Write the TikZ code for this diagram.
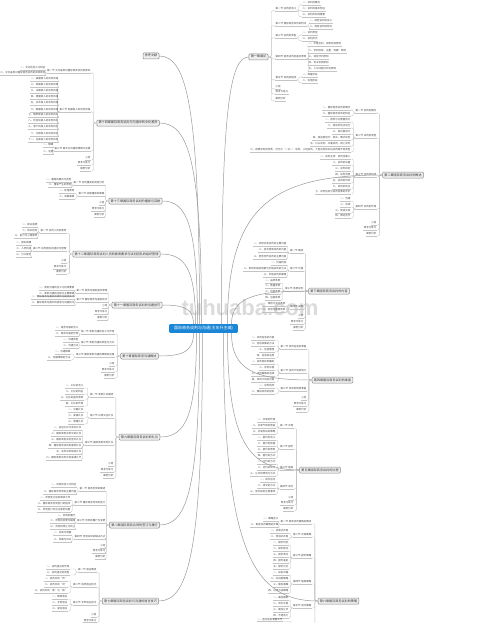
\documentclass[tikz,border=0pt]{standalone}
\usepackage{fontspec}
\setmainfont{Noto Sans CJK SC}
\newfontfamily\wmfont{Liberation Sans}
\usetikzlibrary{calc}
\definecolor{linec}{HTML}{C4C4C4}
\definecolor{mainc}{HTML}{9A9A9A}
\definecolor{txtc}{HTML}{4A4A4A}
\definecolor{rootc}{HTML}{1C86D6}
\definecolor{chapfill}{HTML}{EFEFEF}
\definecolor{chapdraw}{HTML}{8A8A8A}
\tikzset{
 leaf/.style={font=\fontsize{2.5}{3}\selectfont, text=txtc, inner xsep=0.5pt, inner ysep=0.4pt,
   text height=2.1pt, text depth=0.5pt,
   append after command={(\tikzlastnode.south west) edge[draw=linec,line width=0.3pt] (\tikzlastnode.south east)}},
 conn/.style={draw=linec, line width=0.3pt, rounded corners=1.2pt},
 chap/.style={draw=chapdraw, fill=chapfill, line width=0.5pt, rounded corners=1pt,
   font=\fontsize{3.1}{3.5}\selectfont, text=black!80, inner xsep=1.8pt, inner ysep=1.4pt,
   text height=2.6pt, text depth=0.6pt},
 root/.style={fill=rootc, text=white, rounded corners=1pt, font=\fontsize{4}{4.5}\selectfont,
   inner xsep=5pt, inner ysep=2.2pt, text height=3.4pt, text depth=0.8pt},
 main/.style={draw=mainc, line width=0.5pt},
 wmark/.style={text=gray!40, opacity=0.7, font=\wmfont\bfseries\fontsize{22}{22}\selectfont},
}
% left-growing children of a chapter box
\newcommand{\LC}[3]{\foreach \yy/\mytxt [count=\myi] in {#3}{%
  \node[leaf,anchor=east] (#1-\myi) at (#2,\yy) {\mytxt};
  \draw[conn] (#1.west) -- ++(-3,0) |- (#1-\myi.south east);}}
% left-growing children of a subtopic
\newcommand{\LG}[3]{\foreach \yy/\mytxt [count=\myi] in {#3}{%
  \node[leaf,anchor=east] (#1-\myi) at (#2,\yy) {\mytxt};
  \draw[conn] (#1.south west) -- ++(-1.8,0) |- (#1-\myi.south east);}}
% right-growing children of a chapter box
\newcommand{\RC}[3]{\foreach \yy/\mytxt [count=\myi] in {#3}{%
  \node[leaf,anchor=west] (#1-\myi) at (#2,\yy) {\mytxt};
  \draw[conn] (#1.east) -- ++(3,0) |- (#1-\myi.south west);}}
% right-growing children of a subtopic
\newcommand{\RG}[3]{\foreach \yy/\mytxt [count=\myi] in {#3}{%
  \node[leaf,anchor=west] (#1-\myi) at (#2,\yy) {\mytxt};
  \draw[conn] (#1.south east) -- ++(1.8,0) |- (#1-\myi.south west);}}
% curved main branch
\newcommand{\mmlink}[2]{\draw[main] let \p1=(#1), \p2=(#2) in
  (\p1) .. controls (\x1,{\y1+0.8*(\y2-\y1)}) and ({\x1+0.3*(\x2-\x1)},\y2) .. (\p2);}

\begin{document}
\begin{tikzpicture}[x=1pt,y=-1pt]
\useasboundingbox (0,0) rectangle (500,623);
\fill[white] (0,0) rectangle (500,623);

\node[wmark] (wm) at (250,308) {tuhuaba.com};

% ---------- centre ----------
\node[root] (root) at (203.5,328.5) {国际商务谈判与沟通(王东升主编)};

% ---------- left side ----------
\node[chap] (ref) at (151,56) {参考文献};

\node[chap] (c14) at (128,123) {第十四章国际商务谈判与沟通中的文化差异};
\LC{c14}{91}{71/第一节 文化差异对国际商务谈判的影响, 110/第二节 各国商人的谈判风格, 149/第三节 跨文化沟通的障碍与克服, 158/小结, 163/思考与练习, 169/案例分析}
\LG{c14-1}{46}{68/一、文化的含义与特征, 73/二、文化差异对国际商务谈判的具体影响}
\LG{c14-2}{59}{79/一、美国商人的谈判风格, 85/二、英国商人的谈判风格, 91/三、法国商人的谈判风格, 97/四、德国商人的谈判风格, 103/五、日本商人的谈判风格, 110/六、韩国商人的谈判风格, 115/七、俄罗斯商人的谈判风格, 121/八、阿拉伯商人的谈判风格, 127/九、意大利商人的谈判风格, 134/十、北欧商人的谈判风格, 140/十一、拉美商人的谈判风格}
\LG{c14-3}{54}{145/一、障碍, 152/二、克服}

\node[chap] (c13) at (135.5,201) {第十三章国际商务谈判的僵局与突破};
\LC{c13}{105}{183/第一节 谈判僵局的成因分析, 194/第二节 突破僵局的策略, 203/小结, 209/思考与练习, 215/案例分析}
\LG{c13-1}{72}{180/一、僵局的概念与类型, 185/二、僵局产生的原因}
\LG{c13-2}{75}{191/一、处理原则, 197/二、突破策略}

\node[chap] (c12) at (116.5,254) {第十二章国际商务谈判人员的素质要求与谈判团队的组织管理};
\LC{c12}{67}{231/第一节 谈判人员的素质, 249/第二节 谈判团队的组织与管理, 261/小结, 267/思考与练习, 272/案例分析}
\LG{c12-1}{38}{225/一、职业道德, 231/二、知识结构, 236/三、能力与心理素质}
\LG{c12-2}{32}{243/一、团队规模, 249/二、人员构成, 255/三、分工配合}

\node[chap] (c11) at (137,305) {第十一章国际商务谈判的沟通技巧};
\LC{c11}{108}{291/第一节 商务沟通的基本原理, 300/第二节 国际商务沟通的技巧, 306/小结, 312/思考与练习, 318/案例分析}
\LG{c11-1}{75}{288/一、商务沟通的含义与构成要素, 294/二、商务沟通的过程与主要障碍}
\LG{c11-2}{75}{297/一、国际商务沟通中的倾听与提问技巧, 303/二、国际商务沟通中的回答与说服技巧}

\node[chap] (c10) at (139.5,356) {第十章国际商务沟通概述};
\LC{c10}{115}{332/第一节 商务沟通的含义与作用, 343/第二节 商务沟通的类型与方式, 355/第三节 国际商务沟通的障碍及克服, 364/小结, 370/思考与练习, 376/案例分析}
\LG{c10-1}{79}{328/一、商务沟通的含义, 334/二、商务沟通的作用}
\LG{c10-2}{79}{340/一、沟通类型, 346/二、沟通方式}
\LG{c10-3}{71}{352/一、沟通障碍, 358/二、克服障碍的方法}

\node[chap] (c9) at (139.5,437) {第九章国际商务谈判的礼仪};
\LC{c9}{114}{395/第一节 商务礼仪概述, 416/第二节 日常交往礼仪, 443/第三节 国际商务谈判礼仪, 464/小结, 470/思考与练习, 476/案例分析}
\LG{c9-1}{84}{386/一、礼仪的含义, 392/二、礼仪的特征, 398/三、礼仪的基本原则, 404/四、礼仪的作用}
\LG{c9-2}{84}{410/一、见面礼仪, 416/二、宴请礼仪, 422/三、馈赠礼仪}
\LG{c9-3}{82}{428/一、迎送礼仪与会见礼仪, 434/二、国际商务谈判中的礼仪, 440/三、国际商务谈判签约礼仪, 446/四、国际商务谈判的服饰礼仪, 452/五、谈判中的禁忌礼仪, 458/六、国际商务谈判中的宴请礼节}

\node[chap] (c8) at (134.5,525) {第八章国际商务合同的签订与履行};
\LC{c8}{106}{489/第一节 商务合同的概述, 503/第二节 国际商务合同的签订, 521/第三节 合同的履行与变更, 537/第四节 合同纠纷的解决方式, 546/小结, 551/思考与练习, 557/案例分析}
\LG{c8-1}{77}{485/一、合同的含义与特征, 492/二、国际商务合同的主要内容}
\LG{c8-2}{71}{498/一、合同签订前的审核工作, 504/二、国际商务合同签订的程序, 510/三、合同签订中应注意的问题}
\LG{c8-3}{76}{516/一、合同的履行, 521/二、合同的变更与解除, 527/三、合同的转让与终止}
\LG{c8-4}{72}{533/一、协商与调解, 540/二、仲裁与诉讼}

\node[chap] (c7) at (130.5,601) {第七章国际商务谈判与沟通的语言技巧};
\LC{c7}{97}{570/第一节 语言概述, 585/第二节 有声语言技巧, 603/第三节 无声语言技巧, 615/小结, 620.5/思考与练习}
\LG{c7-1}{70}{567/一、谈判语言的作用, 573/二、谈判语言的类型}
\LG{c7-2}{68}{579/一、谈判中的“听”, 585/二、谈判中的“问”, 591/三、谈判中的“答”与“叙”}
\LG{c7-3}{68}{597/一、眼神语言, 603/二、手势语言, 609/三、姿态语言}

% ---------- right side ----------
\node[chap] (c1) at (258.5,57) {第一章绪论};
\RC{c1}{275}{9/第一节 谈判的含义, 24/第二节 国际商务谈判的特点, 36/第三节 谈判的类型, 57/第四节 商务谈判的基本原则, 78/第五节 谈判的程序, 87/小结, 92/思考与练习, 99/案例分析}
\RG{c1-1}{302}{3/一、谈判的概念, 9/二、谈判的基本特征, 15/三、谈判的构成要素}
\RG{c1-2}{309}{21/一、商务谈判的含义, 27/二、商务谈判的特点}
\RG{c1-3}{302}{33/一、谈判类型, 39/二、谈判形式}
\RG{c1-4}{308}{44/一、平等互利、自愿协商原则, 51/二、求同存异、注重“双赢”原则, 57/三、诚信守约原则, 63/四、合法合规原则, 69/五、人与问题分开的原则}
\RG{c1-5}{302}{75/一、准备阶段, 81/二、实施阶段}

\node[chap] (c2) at (403,175) {第二章国际商务谈判的概述};
\LC{c2}{377}{111/第一节 谈判的概念, 136/第二节 谈判的类型, 175/第三节 谈判的构成, 207/第四节 谈判的作用, 223/小结, 228/思考与练习, 234/案例分析}
\LG{c2-1}{351}{108/一、国际商务谈判的概念, 114/二、国际商务谈判的特征}
\LG{c2-2}{351}{120/一、按参与方数量划分, 126/二、按谈判地点划分, 132/三、按内容划分, 138/四、按态度划分：软式、硬式谈判, 144/五、口头谈判、书面谈判、网上谈判, 150/六、按照谈判的性质，可分为“一对一”谈判、小组谈判、大型谈判和多边谈判等不同类型}
\LG{c2-3}{351}{157/一、谈判主体：谈判当事人, 163/二、谈判的议题, 169/三、谈判目标, 175/四、谈判背景, 181/五、谈判的时间, 187/六、谈判的地点, 192/七、谈判信息与谈判结果的评价}
\LG{c2-4}{351}{199/一、沟通, 205/二、协调, 211/三、促进交易, 216/四、推动合作}

\node[chap] (c3) at (329,291) {第三章国际商务谈判的内容};
\LC{c3}{304}{251/第一节 概述, 269/第二节 价格, 289/第三节 条款谈判, 307/第四节 其他, 316/小结, 322/思考与练习, 328/案例分析}
\LG{c3-1}{287}{244/一、货物买卖谈判的主要内容, 250/二、技术贸易谈判的内容, 257/三、劳务合作谈判的主要内容}
\LG{c3-2}{287}{263/一、价格构成, 269/二、影响价格的因素与价格谈判的方法, 275/三、价格谈判的策略}
\LG{c3-3}{281}{281/一、品质条款, 286/二、数量条款, 292/三、包装条款, 298/四、运输条款}
\LG{c3-4}{286}{304/一、保险与支付条款, 310/二、检验与索赔条款}

\node[chap] (c4) at (332.5,380) {第四章国际商务谈判的准备};
\LC{c4}{307}{347/第一节 谈判信息的准备, 371/第二节 谈判计划的制订, 389/第三节 谈判的物质准备, 398/小结, 404/思考与练习, 410/案例分析}
\LG{c4-1}{275}{338/一、谈判信息的内容, 344/二、信息收集的方法, 350/三、信息整理, 356/四、信息的运用}
\LG{c4-2}{275}{362/一、谈判目标的确定, 368/二、谈判议程, 374/三、谈判策略的选择, 380/四、谈判计划的内容}
\LG{c4-3}{275}{386/一、谈判场所, 392/二、模拟谈判的组织}

\node[chap] (c5) at (320,470) {第五章国际商务谈判的过程};
\LC{c5}{294}{426/第一节 开局, 447/第二节 报价, 468/第三节 磋商, 487/第四节 成交, 498/小结, 503/思考与练习, 509/案例分析}
\LG{c5-1}{276}{420/一、开局的作用, 426/二、开局气氛的营造, 432/三、开局阶段的策略}
\LG{c5-2}{276}{438/一、报价的含义, 444/二、报价的依据, 450/三、报价的原则, 456/四、报价的方式}
\LG{c5-3}{276}{462/一、讨价的方式, 468/二、还价的技巧, 474/三、让步的原则与方式}
\LG{c5-4}{276}{480/一、成交信号, 486/二、成交的方式, 492/三、签约前的注意事项}

\node[chap] (c6) at (338.5,601) {第六章国际商务谈判的策略};
\LC{c6}{312}{522/第一节 商务谈判策略的概述, 535/第二节 开局策略, 556/第三节 报价策略, 582/第四节 磋商策略, 606/第五节 成交策略}
\LG{c6-1}{279}{519/一、策略含义, 525/二、制定谈判策略的步骤}
\LG{c6-2}{289}{531/一、协商式开局, 537/二、坦诚式开局}
\LG{c6-3}{289}{543/一、报价时机, 549/二、报价起点, 555/三、报价表达, 561/四、报价差别, 567/五、报价对比}
\LG{c6-4}{289}{573/一、投石问路, 579/二、红白脸策略, 585/三、最后通牒, 591/四、以退为进策略}
\LG{c6-5}{289}{598/一、最后期限, 604/二、场外交易, 610/三、最后让步, 616/四、不遗余力}
% next subtopic continues below the visible area
\coordinate (c6s6) at (293,633);
\node[leaf,anchor=east] (c6s6-1) at (283,619.5) {一、签约前的准备工作};
\draw[conn] (c6.west) -- ++(-3,0) |- (c6s6);
\draw[conn] (c6s6) -- ++(-1.8,0) |- (c6s6-1.south east);

% ---------- main curved branches ----------
\coordinate (sref) at ($(root.north)+(-4,0)$);
\coordinate (s14) at ($(root.north)+(-2,0)$);
\coordinate (s13) at ($(root.north)+(-6,0)$);
\coordinate (s12) at ($(root.north)+(-8,0)$);
\coordinate (s11) at ($(root.north)+(-10,0)$);
\coordinate (s1) at ($(root.north)+(18,0)$);
\coordinate (s2) at ($(root.north)+(24,0)$);
\coordinate (s3) at ($(root.north)+(28,0)$);
\coordinate (s10) at ($(root.south)+(-10,0)$);
\coordinate (s9) at ($(root.south)+(-7,0)$);
\coordinate (s8) at ($(root.south)+(-4,0)$);
\coordinate (s7) at ($(root.south)+(-1,0)$);
\coordinate (s4) at ($(root.south)+(28,0)$);
\coordinate (s5) at ($(root.south)+(24,0)$);
\coordinate (s6) at ($(root.south)+(20,0)$);
\mmlink{sref}{ref.east}
\mmlink{s14}{c14.east}
\mmlink{s13}{c13.east}
\mmlink{s12}{c12.east}
\mmlink{s11}{c11.east}
\mmlink{s10}{c10.east}
\mmlink{s9}{c9.east}
\mmlink{s8}{c8.east}
\mmlink{s7}{c7.east}
\mmlink{s1}{c1.west}
\mmlink{s2}{c2.west}
\mmlink{s3}{c3.west}
\mmlink{s4}{c4.west}
\mmlink{s5}{c5.west}
\mmlink{s6}{c6.west}
\end{tikzpicture}
\end{document}
